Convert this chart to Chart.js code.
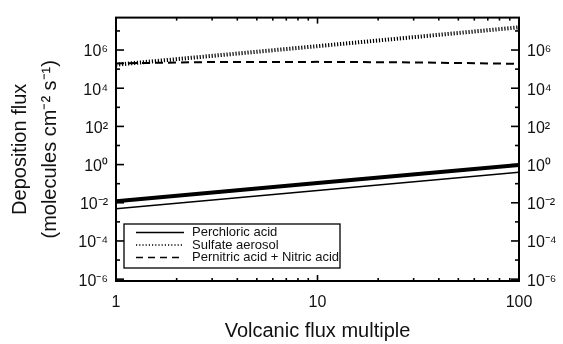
<!DOCTYPE html>
<html><head><meta charset="utf-8">
<script src="https://cdn.jsdelivr.net/npm/chart.js@4.4.1/dist/chart.umd.min.js"></script>
<style>html,body{margin:0;padding:0;background:#fff}#wrap{width:563px;height:344px}</style>
</head><body><div id="wrap"><canvas id="c" width="563" height="344"></canvas></div>
<script>
// ---- data ----
const xValues = [1, 10, 100];
const perchloricHigh = [0.012, 0.11, 0.96];
const perchloricLow = [0.0048, 0.044, 0.40];
const sulfateX = [1, 10, 100];
const sulfate = [1.7e5, 1.6e6, 1.55e7];
const pernitricX = [1, 3, 10, 30, 100];
const pernitric = [2.0e5, 2.35e5, 2.4e5, 2.25e5, 1.9e5];
const xTickValues = [1, 10, 100];
const xMinorTicks = [2, 3, 4, 5, 6, 7, 8, 9, 20, 30, 40, 50, 60, 70, 80, 90];
const yTickExponents = [-6, -4, -2, 0, 2, 4, 6];
const yMinorExponents = [-5, -3, -1, 1, 3, 5, 7];
const seriesLabels = ['Perchloric acid', 'Perchloric acid', 'Sulfate aerosol', 'Pernitric acid + Nitric acid'];
const xTitle = 'Volcanic flux multiple';
const yTitle = ['Deposition flux', '(molecules cm\u207B\u00B2 s\u207B\u00B9)'];

const SUP = {'-':'\u207B','0':'\u2070','1':'\u00B9','2':'\u00B2','3':'\u00B3','4':'\u2074','5':'\u2075','6':'\u2076','7':'\u2077','8':'\u2078','9':'\u2079'};
const powLabel = v => '10' + String(Math.round(Math.log10(v))).split('').map(c => SUP[c]).join('');
const pts = (xs, ys) => xs.map((x, i) => ({x: x, y: ys[i]}));

const FONT = "'Liberation Sans', Arial, Helvetica, sans-serif";
Chart.defaults.font.family = FONT;
Chart.defaults.color = '#111';

const inwardTicks = {
  id: 'inwardTicks',
  afterDraw(chart) {
    const {ctx, chartArea: a, scales: {x, y}} = chart;
    ctx.save();
    ctx.strokeStyle = '#000';
    const seg = (x1, y1, x2, y2) => { ctx.beginPath(); ctx.moveTo(x1, y1); ctx.lineTo(x2, y2); ctx.stroke(); };
    ctx.lineWidth = 1.6;
    yTickExponents.forEach(e => { const p = y.getPixelForValue(Math.pow(10, e)); seg(a.left, p, a.left + 8, p); seg(a.right, p, a.right - 8, p); });
    yMinorExponents.forEach(e => { const p = y.getPixelForValue(Math.pow(10, e)); seg(a.left, p, a.left + 4, p); seg(a.right, p, a.right - 4, p); });
    xTickValues.forEach(v => { const p = x.getPixelForValue(v); seg(p, a.bottom, p, a.bottom - 6); seg(p, a.top, p, a.top + 6); });
    xMinorTicks.forEach(v => { const p = x.getPixelForValue(v); seg(p, a.bottom, p, a.bottom - 3); seg(p, a.top, p, a.top + 3); });
    ctx.lineWidth = 2;
    ctx.strokeRect(a.left, a.top, a.right - a.left, a.bottom - a.top);

    // legend box (inside the plot, lower-left)
    const ds = chart.data.datasets.filter(d => d.inLegend);
    const bx = a.left + 8, bw = 216, bh = 44, by = a.bottom - 13 - bh;
    ctx.fillStyle = '#fff';
    ctx.fillRect(bx, by, bw, bh);
    ctx.lineWidth = 1.3;
    ctx.strokeRect(bx, by, bw, bh);
    ctx.font = '13px ' + FONT;
    ctx.textBaseline = 'middle';
    ctx.textAlign = 'left';
    ds.forEach((d, i) => {
      const cy = by + 8.5 + i * 12.5;
      ctx.setLineDash(d.legendDash);
      ctx.lineWidth = d.legendWidth;
      seg(bx + 12, cy, bx + 60, cy);
      ctx.setLineDash([]);
      ctx.fillStyle = '#111';
      ctx.fillText(d.label, bx + 68, cy);
    });
    ctx.restore();
  }
};

const yScaleBase = (pos, width) => ({
  type: 'logarithmic', position: pos, min: 8e-7, max: 5e7,
  grid: {display: false, drawTicks: false}, border: {display: false},
  ticks: {font: {size: 16}, padding: 8, labelOffset: 2, autoSkip: false, callback: v => powLabel(v)},
  afterBuildTicks: s => { s.ticks = yTickExponents.map(e => ({value: Math.pow(10, e)})); },
  afterFit: s => { s.width = width; }
});

const yLeft = yScaleBase('left', 116);
yLeft.title = {display: true, text: yTitle, font: {size: 20, lineHeight: 1.5}, padding: {top: 5, bottom: 0}, color: '#111'};

new Chart(document.getElementById('c'), {
  type: 'line',
  data: {
    datasets: [
      {label: seriesLabels[0], data: pts(xValues, perchloricHigh), borderColor: '#000', borderWidth: 4, pointRadius: 0, inLegend: true, legendDash: [], legendWidth: 1.3},
      {label: seriesLabels[1], data: pts(xValues, perchloricLow), borderColor: '#000', borderWidth: 1.5, pointRadius: 0},
      {label: seriesLabels[2], data: pts(sulfateX, sulfate), borderColor: '#000', borderWidth: 4, borderDash: [1.2, 1.8], pointRadius: 0, inLegend: true, legendDash: [1.2, 2], legendWidth: 1.3},
      {label: seriesLabels[3], data: pts(pernitricX, pernitric), borderColor: '#000', borderWidth: 2, borderDash: [8, 5], pointRadius: 0, inLegend: true, legendDash: [7, 5], legendWidth: 1.3}
    ]
  },
  options: {
    responsive: false, animation: false, devicePixelRatio: 1,
    layout: {padding: {top: 12, left: 0, right: 0, bottom: 0}},
    plugins: {legend: {display: false}, tooltip: {enabled: false}},
    elements: {line: {tension: 0}},
    scales: {
      x: {
        type: 'logarithmic', position: 'bottom', min: 1, max: 100,
        grid: {display: false, drawTicks: false}, border: {display: false},
        ticks: {font: {size: 16}, padding: 12, autoSkip: false, maxRotation: 0, callback: v => String(v)},
        afterBuildTicks: s => { s.ticks = xTickValues.map(v => ({value: v})); },
        afterFit: s => { s.height = 63; },
        title: {display: true, text: xTitle, font: {size: 20}, padding: {top: 0, bottom: 1}, color: '#111'}
      },
      y: yLeft,
      y2: yScaleBase('right', 44)
    }
  },
  plugins: [inwardTicks]
});
</script>
</body></html>
